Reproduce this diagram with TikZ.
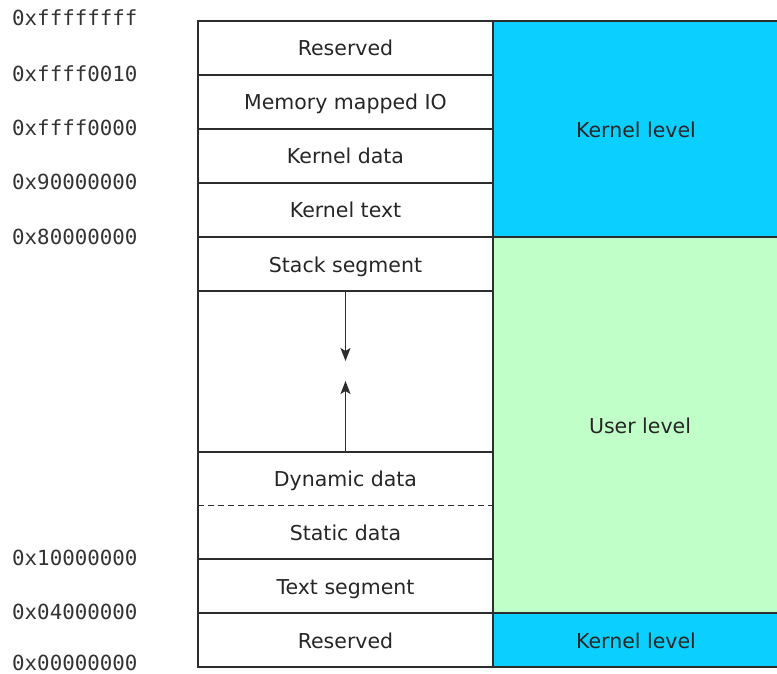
\documentclass[tikz,border=0pt]{standalone}
\usepackage{fontspec}
\setmainfont{DejaVu Sans}
\newfontfamily\addrfont{DejaVu Sans Mono}
\usetikzlibrary{arrows.meta}
\definecolor{kblue}{RGB}{10,207,255}
\definecolor{ugreen}{RGB}{193,255,200}
\definecolor{edge}{RGB}{45,45,45}
\tikzset{
  lbl/.style={font=\fontsize{20.5}{22}\selectfont, text=black!85, text height=18pt, text depth=2pt, inner sep=0pt},
  seg/.style={draw=edge, line width=1.7pt, fill=white, minimum width=295pt, inner sep=0pt, outer sep=0pt, anchor=north west, lbl},
  lvl/.style={draw=edge, line width=1.7pt, minimum width=290pt, inner sep=0pt, outer sep=0pt, anchor=north west},
  addr/.style={anchor=west, inner sep=0pt, font=\addrfont\fontsize{20.8}{22}\selectfont, text=black!80},
  growarrow/.style={draw=edge, line width=1.5pt, -{Stealth[length=13pt,width=10pt,inset=3pt]}}
}
\begin{document}
\begin{tikzpicture}[x=1pt,y=-1pt]
\useasboundingbox (0,0) rectangle (777,674);
% right column
\node[lvl, fill=kblue, minimum height=216pt] (k1) at (493,21) {};
\node[lvl, fill=ugreen, minimum height=376pt] (u) at (493,237) {};
\node[lvl, fill=kblue, minimum height=54pt] (k2) at (493,613) {};
\node[lbl] (k1t) at (636,129.5) {Kernel level};
\node[lbl] (ut) at (640,425.5) {User level};
\node[lbl] (k2t) at (636,640) {Kernel level};
% left column
\node[seg, minimum height=54pt] (r1) at (198,21) {Reserved};
\node[seg, minimum height=54pt] (mm) at (198,75) {Memory mapped IO};
\node[seg, minimum height=54pt] (kd) at (198,129) {Kernel data};
\node[seg, minimum height=54pt] (kt) at (198,183) {Kernel text};
\node[seg, minimum height=54pt] (ss) at (198,237) {Stack segment};
\node[seg, minimum height=161pt] (gap) at (198,291) {};
\node[seg, minimum height=107pt] (dd) at (198,452) {};
\node[lbl] (ddt) at (345.5,478.5) {Dynamic data};
\node[lbl] (sdt) at (345.5,532) {Static data};
\draw[edge, line width=1.7pt, dash pattern=on 6pt off 4pt] (dd.west) -- (dd.east);
\node[seg, minimum height=54pt] (ts) at (198,559) {Text segment};
\node[seg, minimum height=54pt] (r2) at (198,613) {Reserved};
% growth arrows
\coordinate (sd) at (345.5,361);
\coordinate (hu) at (345.5,381);
\draw[growarrow] (gap.north) -- (sd);
\draw[growarrow] (gap.south) -- (hu);
% addresses
\node[addr] (a1) at (12,18) {0xffffffff};
\node[addr] (a2) at (12,74) {0xffff0010};
\node[addr] (a3) at (12,128) {0xffff0000};
\node[addr] (a4) at (12,182) {0x90000000};
\node[addr] (a5) at (12,237) {0x80000000};
\node[addr] (a6) at (12,558) {0x10000000};
\node[addr] (a7) at (12,612) {0x04000000};
\node[addr] (a8) at (12,663) {0x00000000};
\end{tikzpicture}
\end{document}
